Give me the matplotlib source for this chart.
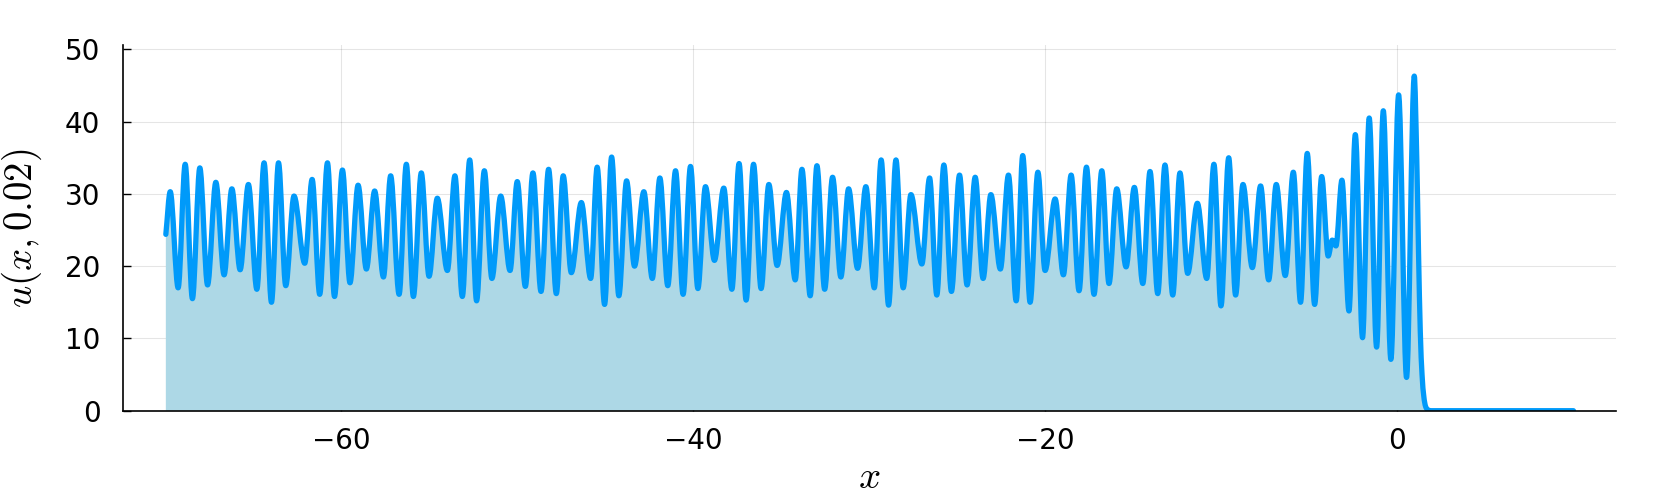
import matplotlib
matplotlib.use("Agg")
import matplotlib.pyplot as plt
from matplotlib.path import Path
from matplotlib.patches import PathPatch

plt.rcParams['mathtext.fontset'] = 'cm'

# extremos (x, u(x, 0.02))
x = [-69.95, -69.70, -69.25, -68.85, -68.44, -68.02, -67.58, -67.11, -66.64, -66.20,
     -65.73, -65.26, -64.78, -64.37, -63.95, -63.55, -63.14, -62.67, -62.06, -61.64,
     -61.21, -60.77, -60.37, -59.92, -59.49, -59.03, -58.56,
     -58.09, -57.59, -57.18, -56.70, -56.29, -55.89, -55.44, -55.00, -54.53, -53.96,
     -53.53, -53.11, -52.69, -52.30, -51.86, -51.43, -50.93, -50.40, -49.99, -49.53,
     -49.10, -48.64, -48.21, -47.77, -47.38, -46.92,
     -46.35, -45.82, -45.45, -45.03, -44.63, -44.22, -43.78, -43.33, -42.80, -42.32,
     -41.89, -41.44, -41.00, -40.57, -40.15, -39.73, -39.30, -38.79, -38.26, -37.80,
     -37.39, -36.99, -36.57, -36.14, -35.70, -35.23, -34.70,
     -34.20, -33.82, -33.35, -32.97, -32.53, -32.08, -31.61, -31.17, -30.66, -30.19,
     -29.71, -29.32, -28.90, -28.48, -28.07, -27.63, -27.01, -26.57, -26.16, -25.76,
     -25.33, -24.87, -24.44, -23.98, -23.53, -23.09, -22.55,
     -22.09, -21.65, -21.28, -20.86, -20.42, -20.01, -19.44, -18.97, -18.53, -18.08,
     -17.66, -17.23, -16.79, -16.38, -15.94, -15.41, -14.94, -14.46, -14.05, -13.61,
     -13.20, -12.76, -12.35, -11.91, -11.36, -10.83,
     -10.42, -10.02, -9.58, -9.19, -8.77, -8.24, -7.77, -7.31, -6.88, -6.37,
     -5.91, -5.50, -5.12, -4.70, -4.30, -3.93, -3.70, -3.49, -3.15, -2.75,
     -2.39, -1.98, -1.60, -1.18, -0.80, -0.37, 0.07, 0.52, 0.96,
     1.10, 1.20, 1.30, 1.40, 1.50, 1.60, 1.75, 2.00, 10.00]

u = [24.4, 30.3, 17.0, 34.1, 15.5, 33.6, 17.4, 31.6, 18.8, 30.7,
     19.5, 31.3, 16.8, 34.3, 15.0, 34.3, 17.3, 29.7, 20.4, 32.0,
     16.1, 34.3, 15.8, 33.3, 17.7, 31.2, 19.6,
     30.4, 18.5, 32.5, 16.1, 34.1, 15.8, 32.9, 18.6, 29.4, 19.4,
     32.5, 15.8, 34.7, 15.2, 33.2, 18.3, 29.7, 19.4, 31.7, 17.2,
     32.9, 16.5, 33.4, 16.2, 32.5, 19.1,
     28.8, 18.3, 33.7, 14.7, 35.1, 15.9, 31.8, 20.0, 30.3, 18.3,
     32.2, 17.3, 33.2, 16.1, 33.8, 16.9, 31.0, 20.8, 30.8, 16.8,
     34.2, 15.3, 34.1, 16.9, 31.3, 20.1, 30.2,
     18.1, 33.4, 15.9, 33.9, 16.8, 32.3, 18.5, 30.7, 19.7, 31.0,
     17.0, 34.7, 14.6, 34.7, 17.0, 29.9, 20.3, 32.2, 16.0, 34.0,
     16.5, 32.6, 17.4, 32.3, 18.3, 29.9, 19.6,
     32.6, 15.2, 35.3, 15.0, 33.0, 19.4, 29.3, 18.8, 32.6, 16.6,
     33.7, 16.1, 33.2, 17.6, 30.7, 19.9, 30.9, 17.6, 33.1, 16.2,
     34.0, 16.0, 32.9, 19.0, 28.7, 18.3,
     34.1, 14.5, 35.0, 16.0, 31.3, 19.8, 31.1, 18.1, 31.3, 18.7,
     33.0, 15.0, 35.6, 14.7, 32.4, 21.4, 23.6, 22.8, 31.9, 13.8,
     38.2, 10.1, 40.5, 8.8, 41.5, 7.1, 43.7, 4.6, 46.3,
     35.0, 22.0, 11.0, 5.0, 2.0, 0.6, 0.1, 0.0, 0.0]

xticks = [-60, -40, -20, 0]
yticks = [0, 10, 20, 30, 40, 50]


def pendientes(xs, ys):
    # tangente horizontal en los extremos, cuerda en el resto
    n = len(xs)
    m = []
    for i in range(n):
        if i == 0:
            m.append((ys[1] - ys[0]) / (xs[1] - xs[0]))
        elif i == n - 1:
            m.append((ys[-1] - ys[-2]) / (xs[-1] - xs[-2]))
        elif (ys[i] - ys[i-1]) * (ys[i+1] - ys[i]) <= 0:
            m.append(0.0)
        else:
            m.append((ys[i+1] - ys[i-1]) / (xs[i+1] - xs[i-1]))
    return m


def camino_suave(xs, ys):
    m = pendientes(xs, ys)
    verts = [(xs[0], ys[0])]
    codes = [Path.MOVETO]
    for i in range(len(xs) - 1):
        h = (xs[i+1] - xs[i]) / 3.0
        verts += [(xs[i] + h, ys[i] + h * m[i]),
                  (xs[i+1] - h, ys[i+1] - h * m[i+1]),
                  (xs[i+1], ys[i+1])]
        codes += [Path.CURVE4] * 3
    return verts, codes


verts, codes = camino_suave(x, u)
relleno = Path(verts + [(x[-1], 0), (x[0], 0), (x[0], u[0])],
               codes + [Path.LINETO, Path.LINETO, Path.CLOSEPOLY])
linea = Path(verts, codes)

fig = plt.figure(figsize=(16.61, 4.98), dpi=100)
ax = fig.add_axes([0.07387, 0.17530, 0.89886, 0.73434])

ax.add_patch(PathPatch(relleno, facecolor='#ADD8E6', edgecolor='none', lw=0, zorder=1.5))
ax.add_patch(PathPatch(linea, facecolor='none', edgecolor='#009AFA', lw=3.8,
                       joinstyle='round', capstyle='round', zorder=2))

ax.set_xlim(-72.4, 12.4)
ax.set_ylim(0, 50.6)
ax.set_xticks(xticks)
ax.set_yticks(yticks)
ax.grid(True, color='black', alpha=0.1, lw=0.8)
ax.set_axisbelow(True)

for s in ['top', 'right']:
    ax.spines[s].set_visible(False)
for s in ['left', 'bottom']:
    ax.spines[s].set_linewidth(1.2)
    ax.spines[s].set_zorder(3)

ax.tick_params(direction='in', length=5.5, width=1, labelsize=20)
ax.tick_params(axis='x', pad=12)
ax.tick_params(axis='y', pad=16)

ax.set_xlabel(r'$x$', fontsize=28)
ax.set_ylabel(r'$u(x, 0.02)$', fontsize=28)
ax.xaxis.set_label_coords(0.5, -0.2335)
ax.xaxis.label.set_va('bottom')
ax.yaxis.set_label_coords(-0.0674, 0.5)
ax.yaxis.label.set_va('center')

plt.savefig('out.png', dpi=100)
